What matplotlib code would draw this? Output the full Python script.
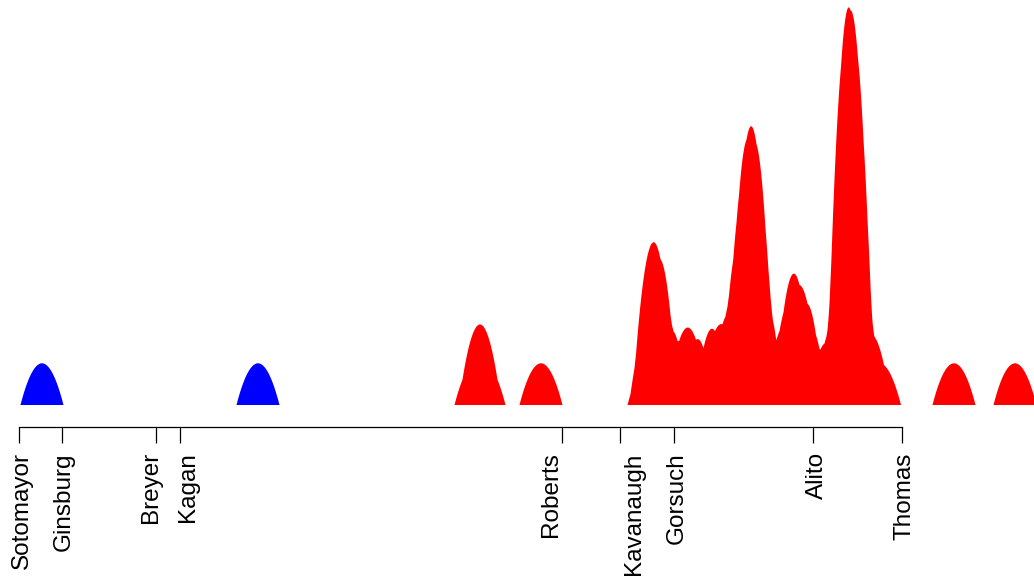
import numpy as np
import matplotlib
matplotlib.use("Agg")
import matplotlib.pyplot as plt

# ideal points of the justices (arbitrary scale)
justices = ["Sotomayor", "Ginsburg", "Breyer", "Kagan", "Roberts",
            "Kavanaugh", "Gorsuch", "Alito", "Thomas"]
justice_pos = [-4.41, -3.98, -3.04, -2.80, 1.017, 1.60, 2.143, 3.533, 4.423]
# labels are nudged apart where ticks sit close together
label_pos = [-4.405, -3.99, -3.12, -2.75, 0.88, 1.717, 2.14, 3.54, 4.417]

# observations on the same scale, split by side
liberal_obs = [-4.18, -2.02]
conservative_obs = [0.16, 0.24, 0.81,
                    1.89, 1.92, 1.96, 1.975, 2.22, 2.335, 2.575, 2.65, 2.84, 2.87,
                    2.89, 2.905, 2.945, 2.95, 2.98, 3.18, 3.345, 3.38, 3.45, 3.69,
                    3.82, 3.86, 3.89, 3.895, 3.905, 3.91, 3.91, 3.925, 3.93, 4.025,
                    4.195, 4.94, 5.55]

bw = 0.215  # epanechnikov half width


def epan_density(obs, x):
    d = np.zeros_like(x)
    for p in obs:
        u = (x - p) / bw
        d += np.clip(1 - u * u, 0, None)
    return d


plt.rcParams['font.family'] = ['Liberation Sans', 'DejaVu Sans']

fig = plt.figure(figsize=(10.34, 5.81), dpi=100)
ax = fig.add_axes([0, 176 / 581, 1, 400 / 581])
xmin, xmax = -4.6, 5.74
x = np.linspace(xmin, xmax, 3000)

ax.fill_between(x, 0, epan_density(liberal_obs, x), color="#0000ff", lw=0)
ax.fill_between(x, 0, epan_density(conservative_obs, x), color="#ff0000", lw=0)

ax.set_xlim(xmin, xmax)
ax.set_ylim(0, 9.59)
for s in ["top", "left", "right"]:
    ax.spines[s].set_visible(False)
ax.spines["bottom"].set_position(("outward", 15.8))
ax.spines["bottom"].set_bounds(justice_pos[0], justice_pos[-1])
ax.spines["bottom"].set_linewidth(0.9)
ax.set_yticks([])
ax.set_xticks(justice_pos)
ax.set_xticklabels([])
ax.tick_params(axis="x", length=11.5, width=0.9, direction="out")

fs = 17.5
for name, lx in zip(justices, label_pos):
    ax.annotate(name, xy=(lx, 0), xycoords=("data", "axes fraction"),
                xytext=(0.358 * fs, -34), textcoords="offset points",
                rotation=90, rotation_mode="anchor", ha="right", va="baseline",
                fontsize=fs, annotation_clip=False)

fig.savefig("out.png")
